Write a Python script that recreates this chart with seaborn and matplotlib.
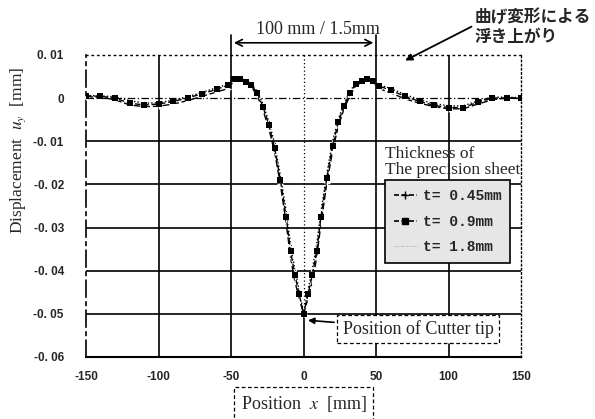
import numpy as np
import pandas as pd
import matplotlib
matplotlib.use("Agg")
import matplotlib.pyplot as plt
import seaborn as sns
from matplotlib.lines import Line2D

# Measurement positions along the sheet [mm]
position = [-150, -140, -130, -120, -110, -100, -90, -80, -70, -60, -52, -48, -44, -40,
            -36, -32, -28, -24, -20, -16, -12, -9, -6, -3, 0, 3, 6, 9, 12, 16, 20, 24,
            28, 32, 36, 40, 44, 48, 52, 60, 70, 80, 90, 100, 110, 120, 130, 140, 150]

# Vertical displacement u_y [mm] for each sheet thickness
disp_t045 = [0.0003, 0.0002, -0.0004, -0.0016, -0.0020, -0.0019, -0.0014, -0.0006, 0.0004,
             0.0014, 0.0022, 0.0040, 0.0041, 0.0036, 0.0026, 0.0006, -0.0028, -0.0070,
             -0.0125, -0.0200, -0.0290, -0.0370, -0.0425, -0.0465, -0.0500, -0.0465,
             -0.0425, -0.0370, -0.0290, -0.0198, -0.0122, -0.0064, -0.0024, 0.0006,
             0.0028, 0.0037, 0.0041, 0.0036, 0.0022, 0.0012, -0.0002, -0.0012, -0.0020,
             -0.0025, -0.0025, -0.0014, -0.0004, 0.0000, 0.0000]
disp_t09 = [0.0005, 0.0004, 0.0000, -0.0012, -0.0016, -0.0014, -0.0008, 0.0000, 0.0010,
            0.0020, 0.0030, 0.0045, 0.0044, 0.0038, 0.0030, 0.0012, -0.0020, -0.0062,
            -0.0115, -0.0190, -0.0275, -0.0355, -0.0410, -0.0455, -0.0500, -0.0455,
            -0.0410, -0.0355, -0.0275, -0.0185, -0.0110, -0.0055, -0.0018, 0.0012,
            0.0032, 0.0040, 0.0044, 0.0040, 0.0028, 0.0018, 0.0004, -0.0008, -0.0017,
            -0.0022, -0.0022, -0.0010, 0.0000, 0.0000, 0.0000]
disp_t18 = [0.0006, 0.0005, 0.0003, -0.0006, -0.0012, -0.0011, -0.0005, 0.0003, 0.0013,
            0.0024, 0.0032, 0.0048, 0.0046, 0.0041, 0.0033, 0.0016, -0.0014, -0.0054,
            -0.0105, -0.0180, -0.0262, -0.0340, -0.0398, -0.0445, -0.0500, -0.0445,
            -0.0398, -0.0340, -0.0262, -0.0175, -0.0100, -0.0048, -0.0012, 0.0016,
            0.0035, 0.0043, 0.0046, 0.0043, 0.0031, 0.0022, 0.0008, -0.0004, -0.0013,
            -0.0018, -0.0018, -0.0007, 0.0002, 0.0002, 0.0001]

series_labels = ["t= 0.45mm", "t= 0.9mm", "t= 1.8mm"]
x_ticks = [-150, -100, -50, 0, 50, 100, 150]
y_ticks = [0.01, 0, -0.01, -0.02, -0.03, -0.04, -0.05, -0.06]
y_ticklabels = ["0. 01", "0", "-0. 01", "-0. 02", "-0. 03", "-0. 04", "-0. 05", "-0. 06"]

sns.set_theme(style="white")
plt.rcParams["font.family"] = ["Liberation Serif", "DejaVu Serif"]
plt.rcParams["mathtext.fontset"] = "stix"

fig = plt.figure(figsize=(5.95, 4.19), dpi=100)
ax = fig.add_axes([0.1445, 0.148, 0.7315, 0.721])

df = pd.DataFrame({"x": position, "t045": disp_t045, "t09": disp_t09, "t18": disp_t18})

sns.lineplot(data=df, x="x", y="t045", ax=ax, color="black", linestyle=(0, (5, 2)),
             linewidth=1.0, marker="+", markersize=5, markeredgewidth=1.0,
             label=series_labels[0], zorder=4)
sns.lineplot(data=df, x="x", y="t09", ax=ax, color="black", linestyle=(0, (4, 2)),
             linewidth=1.0, marker="s", markersize=4.5, markeredgewidth=0,
             label=series_labels[1], zorder=5)
sns.lineplot(data=df, x="x", y="t18", ax=ax, color="black", linestyle=(0, (1, 1.5)),
             linewidth=1.0, marker="o", markersize=1.5,
             label=series_labels[2], zorder=3)

ax.set_xlim(-150, 150)
ax.set_ylim(-0.06, 0.01)
ax.set_xticks(x_ticks)
ax.set_xticklabels([str(v) for v in x_ticks])
ax.set_yticks(y_ticks)
ax.set_yticklabels(y_ticklabels)
ax.tick_params(axis="both", length=0, labelsize=8.5)
ax.tick_params(axis="x", pad=10)
ax.tick_params(axis="y", pad=16)
for lab in ax.get_xticklabels() + ax.get_yticklabels():
    lab.set_fontfamily("Liberation Sans")
    lab.set_fontweight("bold")

# grid
for yv in [-0.01, -0.02, -0.03, -0.04, -0.05]:
    ax.axhline(yv, color="black", lw=1.2, zorder=1)
ax.axhline(0, color="black", lw=0.9, ls=(0, (6, 2, 1, 2)), zorder=1)
for xv in [-100, -50, 50, 100]:
    ax.axvline(xv, color="black", lw=1.2, zorder=1)
ax.plot([0, 0], [0.01, -0.05], color="black", lw=0.9, ls=(0, (1, 2)), zorder=1)
ax.plot([0, 0], [-0.05, -0.06], color="black", lw=1.2, zorder=1)

# frame
for side in ["top", "right", "left", "bottom"]:
    ax.spines[side].set_color("black")
ax.spines["bottom"].set_linewidth(1.5)
ax.spines["top"].set_linewidth(1.0)
ax.spines["top"].set_linestyle((0, (1, 3)))
ax.spines["right"].set_linewidth(1.0)
ax.spines["right"].set_linestyle((0, (1, 2)))
ax.spines["left"].set_linewidth(1.2)
ax.spines["left"].set_linestyle((0, (10, 3, 2, 3)))

ax.set_xlabel("")
ax.set_ylabel("")

# y label
fig.text(0.030, 0.64, r"Displacement  $u_y$  [mm]", rotation=90, ha="center", va="center",
         fontsize=12.5)

# x label in a dashed box
ax.text(0.5, -0.155, r"Position  $x$  [mm]", transform=ax.transAxes, ha="center", va="center",
        fontsize=13,
        bbox=dict(boxstyle="square,pad=0.35", fc="white", ec="black", ls=(0, (3, 2)), lw=0.9))

# span annotation above the plot
ax.plot([-50, -50], [0.01, 0.0147], color="black", lw=1.2, clip_on=False)
ax.plot([50, 50], [0.01, 0.0147], color="black", lw=1.2, clip_on=False)
ax.annotate("", xy=(50, 0.0128), xytext=(-50, 0.0128), annotation_clip=False,
            arrowprops=dict(arrowstyle="<->", color="black", lw=1.2))
ax.text(10, 0.0158, "100 mm / 1.5mm", ha="center", va="center", fontsize=13)

# uplift annotation
ax.annotate("曲げ変形による\n浮き上がり", xy=(70, 0.0087), xytext=(118, 0.0165),
            annotation_clip=False, ha="left", va="center", fontsize=12, fontweight="bold",
            family=["Noto Sans CJK JP", "DejaVu Sans"], linespacing=1.1,
            arrowprops=dict(arrowstyle="-|>", color="black", lw=1.3,
                            shrinkA=0, shrinkB=0, mutation_scale=10,
                            relpos=(0.0, 0.55)))

# cutter tip annotation
ax.annotate("Position of Cutter tip", xy=(3, -0.0515), xytext=(27, -0.0535),
            ha="left", va="center", fontsize=13,
            bbox=dict(boxstyle="square,pad=0.3", fc="white", ec="black", ls=(0, (3, 2)), lw=0.9),
            arrowprops=dict(arrowstyle="-|>", color="black", lw=1.2, shrinkA=2, shrinkB=0,
                            mutation_scale=9))

# legend
ax.text(0.687, 0.645, "Thickness of\nThe precision sheet", transform=ax.transAxes,
        ha="left", va="center", fontsize=12.5, linespacing=0.95)
handles = [
    Line2D([], [], color="black", ls=(0, (3, 1.5)), lw=1.2, marker="+", markersize=6),
    Line2D([], [], color="black", ls=(0, (3, 1.5)), lw=1.2, marker="s", markersize=5),
    Line2D([], [], color="black", ls=(0, (1, 2)), lw=0.6, alpha=0.4),
]
leg = ax.legend(handles, series_labels, loc="upper left", bbox_to_anchor=(0.687, 0.585),
                prop={"family": "Liberation Mono", "weight": "bold", "size": 10.5},
                frameon=True, fancybox=False, handlelength=1.6, handletextpad=0.4,
                borderpad=0.6, labelspacing=0.8, borderaxespad=0)
frame = leg.get_frame()
frame.set_facecolor("#e6e6e6")
frame.set_edgecolor("black")
frame.set_linewidth(1.2)
frame.set_alpha(1)

fig.savefig("out.png", dpi=100, facecolor="white")
